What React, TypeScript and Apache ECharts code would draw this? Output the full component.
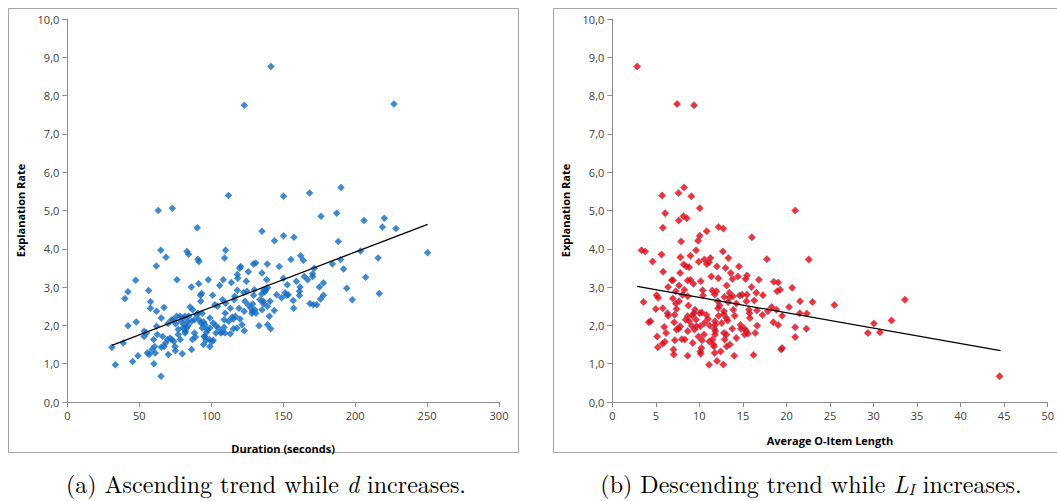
import React, { useEffect, useRef } from "react";
import * as echarts from "echarts";

// Left chart: Duration (seconds) vs Explanation Rate
const durationPoints: number[][] = [
  [141.5, 8.76], [123, 7.75], [227, 7.78], [112, 5.39], [150.3, 5.37], [168.4, 5.46], [190.2, 5.6],
  [63.2, 5.0], [73, 5.06], [90.3, 4.55], [187.2, 4.93], [176.3, 4.85], [206.2, 4.74], [219, 4.57],
  [220.3, 4.8], [228.4, 4.53], [135.3, 4.46], [150.3, 4.34], [157.5, 4.3], [144, 4.21], [188.3, 4.19],
  [250.4, 3.9], [65, 3.96], [83.2, 3.93], [84.3, 3.86], [110, 3.96], [68.6, 3.78], [61.8, 3.55],
  [109.3, 3.76], [90.8, 3.73], [91.5, 3.67], [203.8, 3.94], [216, 3.76], [189.9, 3.72], [155.4, 3.72],
  [162.2, 3.82], [164, 3.7], [184.2, 3.6], [139, 3.6], [130.9, 3.63], [129.3, 3.6], [120.5, 3.54],
  [119.8, 3.49], [147.3, 3.54], [192, 3.47], [171.6, 3.49], [125.8, 3.4], [118.2, 3.33], [135.3, 3.37],
  [170.5, 3.35], [47.5, 3.18], [76.2, 3.19], [98, 3.19], [108.4, 3.19], [138.5, 3.19], [118.4, 3.23],
  [150.1, 3.23], [170.5, 3.28], [164.7, 3.28], [124.4, 3.15], [178, 3.11], [207.3, 3.26], [159.2, 3.15],
  [91.3, 3.09], [86.2, 3.0], [114, 3.12], [105.9, 3.04], [152.9, 3.06], [167, 3.19], [175.2, 3.0],
  [194.2, 2.97], [42.2, 2.88], [56.5, 2.91], [40, 2.7], [92.5, 2.79], [93.4, 2.83], [101, 2.79],
  [118.2, 2.92], [122.6, 2.86], [130, 2.93], [137.2, 2.87], [138, 2.93], [145.5, 2.8], [151.3, 2.85],
  [152.4, 2.79], [161.3, 2.89], [161.3, 2.78], [178, 2.79], [216.8, 2.83], [198, 2.67], [176, 2.69],
  [168.6, 2.57], [170.9, 2.54], [173.3, 2.54], [157, 2.65], [157.3, 2.45], [143.8, 2.39], [140.9, 2.63],
  [136.2, 2.57], [128.8, 2.56], [127.6, 2.45], [122.9, 2.37], [128.3, 2.32], [131.1, 2.32], [123.5, 2.63],
  [116, 2.67], [102.6, 2.54], [104.5, 2.5], [108, 2.67], [113.3, 2.45], [92.7, 2.63], [85.3, 2.48],
  [67.2, 2.47], [57.8, 2.45], [57.8, 2.62], [62, 2.37], [87.1, 2.41], [90.8, 2.32], [93.8, 2.32],
  [114.6, 2.21], [120, 2.17], [140.4, 2.24], [112.1, 2.11], [109, 2.15], [109, 1.95], [117.9, 1.93],
  [123, 1.86], [133.2, 1.99], [139.2, 2.02], [141.3, 1.91], [116.8, 2.24], [107.3, 1.83], [113.3, 1.78],
  [103.3, 1.8], [96.8, 1.82], [95.2, 1.71], [98.7, 1.63], [100.5, 1.58], [99.1, 1.45], [94.7, 1.5],
  [88.3, 1.8], [86.9, 1.63], [86.4, 1.37], [79.9, 1.26], [74.8, 1.45], [75.1, 1.34], [70.2, 1.24],
  [65.1, 0.67], [60.2, 1.0], [45.4, 1.06], [49.1, 1.21], [33.4, 0.97], [31, 1.43], [38.9, 1.54],
  [42.2, 1.99], [47.9, 2.09], [53.4, 1.85], [53.4, 1.71], [55.6, 1.28], [57, 1.24], [58.8, 1.37],
  [60.7, 1.45], [60, 1.63], [61.1, 1.28], [62.5, 1.76], [62, 1.98], [65.3, 2.19], [65.3, 1.43],
  [67.2, 1.45], [68.3, 1.54], [69.7, 1.63], [71.4, 1.67], [72.5, 1.63], [66.3, 1.71], [73.7, 2.15],
  [76, 2.24], [78.3, 2.24], [80.2, 2.19], [81.8, 2.24], [72.5, 2.15], [75.3, 2.04], [77.1, 1.89],
  [77.1, 1.76], [78.5, 1.63], [80.4, 1.93], [81.3, 2.02], [82.2, 1.85], [81.8, 1.8], [83.4, 2.11],
  [82.9, 1.93], [84.3, 2.24], [86.4, 2.11], [88.3, 2.15], [89.9, 2.28], [91.5, 2.15], [92.9, 2.06],
  [94.7, 2.09], [93.8, 1.93], [95.6, 2.02], [97.3, 1.89], [99.1, 1.93], [101.4, 2.06], [103.3, 1.99],
  [104.9, 1.93], [95.4, 1.71], [96.5, 1.61], [101.4, 1.61], [106.8, 1.8], [109.6, 1.8], [115.4, 1.91],
  [115.4, 2.17], [121.4, 2.02], [125.8, 2.53], [128.6, 2.37], [130.4, 2.41], [135.3, 2.41], [136.2, 2.63],
  [139, 2.5], [135, 2.82], [136.4, 2.93], [139.2, 2.99], [133.9, 2.67], [148.9, 2.72], [153.5, 2.8],
  [161.7, 3.0], [119.3, 2.45], [124.9, 2.89], [129.5, 2.79], [116.3, 2.76], [110, 2.58], [99.1, 2.19],
  [109.8, 2.32], [55.1, 1.8], [79, 2.1], [84, 2.0], [70, 2.05], [74, 1.58], [89, 1.7]
];
const durationTrend: number[][] = [[31, 1.48], [250.4, 4.64]];

// Right chart: Average O-Item Length vs Explanation Rate
const lengthPoints: number[][] = [
  [2.86, 8.76], [7.44, 7.78], [9.39, 7.75], [8.24, 5.6], [7.6, 5.46], [5.73, 5.39], [9.08, 5.37],
  [10.04, 5.06], [21, 5.0], [6.07, 4.93], [8.17, 4.85], [8.55, 4.8], [7.63, 4.74], [5.8, 4.55],
  [12.2, 4.57], [12.75, 4.53], [10.84, 4.46], [10.04, 4.34], [16.03, 4.3], [9.85, 4.21], [7.9, 4.19],
  [3.36, 3.96], [3.78, 3.93], [12.7, 3.93], [9.62, 3.96], [5.65, 3.85], [7.82, 3.78], [8.97, 3.82],
  [10.57, 3.72], [11.26, 3.76], [13.32, 3.76], [17.75, 3.73], [22.56, 3.72], [4.62, 3.67], [9.92, 3.66],
  [10.84, 3.6], [11.1, 3.65], [8.2, 3.59], [8.5, 3.54], [8.82, 3.52], [12.0, 3.54], [13.0, 3.5],
  [14.54, 3.54], [5.84, 3.4], [7.79, 3.37], [13.6, 3.37], [11.37, 3.28], [12.18, 3.23], [14.43, 3.28],
  [15.46, 3.3], [13.8, 3.21], [6.98, 3.18], [6.83, 3.18], [8.66, 3.17], [8.97, 3.19], [10.15, 3.15],
  [15.3, 3.21], [16.83, 3.19], [18.55, 3.14], [19.05, 3.12], [7.67, 3.04], [6.41, 3.0], [9.31, 3.09],
  [13.13, 3.04], [15.99, 3.0], [20.65, 2.98], [7.29, 2.89], [8.28, 2.93], [10.38, 2.92], [11.49, 2.91],
  [11.95, 2.89], [13.44, 2.85], [16.53, 2.85], [18.93, 2.89], [19.27, 2.93], [5.08, 2.79], [5.27, 2.72],
  [8.05, 2.8], [10.42, 2.78], [11.76, 2.81], [14.62, 2.78], [14.92, 2.8], [15.46, 2.8], [17.29, 2.79],
  [6.95, 2.7], [8.66, 2.76], [12.86, 2.74], [13.47, 2.73], [13.85, 2.76], [3.59, 2.61], [7.67, 2.63],
  [12.1, 2.63], [13.3, 2.61], [15.4, 2.63], [16.3, 2.65], [21.56, 2.63], [23.0, 2.61], [25.5, 2.53],
  [33.6, 2.67], [14.24, 2.57], [12.33, 2.52], [8.74, 2.52], [7.29, 2.57], [20.3, 2.48], [18.3, 2.48],
  [18.85, 2.41], [5.0, 2.43], [5.8, 2.45], [7.37, 2.43], [12.14, 2.45], [12.82, 2.37], [13.9, 2.41],
  [15.69, 2.41], [16.6, 2.39], [17.86, 2.37], [6.34, 2.32], [7.14, 2.28], [9.5, 2.41], [10.04, 2.32],
  [10.27, 2.34], [10.8, 2.27], [12.2, 2.25], [12.8, 2.29], [14.05, 2.25], [15.76, 2.32], [21.53, 2.32],
  [22.33, 2.31], [17.25, 2.27], [19.5, 2.25], [4.39, 2.11], [4.2, 2.08], [6.41, 2.25], [8.66, 2.24],
  [9.2, 2.25], [9.35, 2.32], [8.43, 2.15], [8.82, 2.11], [9.62, 2.15], [10.99, 2.17], [11.79, 2.11],
  [13.1, 2.19], [13.24, 2.13], [15.8, 2.19], [18.5, 2.08], [30.04, 2.05], [32.06, 2.13], [7.1, 2.08],
  [5.96, 1.96], [7.79, 1.98], [9.12, 1.99], [9.66, 1.98], [10.11, 1.98], [10.57, 2.06], [11.18, 2.0],
  [11.83, 2.02], [12.56, 2.06], [14.73, 2.01], [16.64, 1.99], [19.05, 2.01], [21.0, 1.95], [22.29, 1.91],
  [6.18, 1.8], [7.37, 1.89], [7.63, 1.91], [8.66, 1.85], [9.43, 1.89], [11.72, 1.91], [11.83, 1.85],
  [13.78, 1.91], [14.77, 1.91], [15.15, 1.92], [15.38, 1.86], [29.35, 1.8], [30.73, 1.82], [5.15, 1.71],
  [7.98, 1.64], [8.32, 1.63], [9.89, 1.71], [10.53, 1.76], [11.79, 1.76], [12.82, 1.8], [13.1, 1.76],
  [15.19, 1.76], [15.57, 1.78], [16.41, 1.8], [21.0, 1.7], [7.18, 1.61], [6.03, 1.57], [5.76, 1.52],
  [10.3, 1.61], [11.14, 1.58], [11.49, 1.63], [12.9, 1.63], [14.24, 1.67], [9.24, 1.54], [11.6, 1.5],
  [13.51, 1.5], [5.23, 1.43], [10.23, 1.41], [11.68, 1.45], [13.13, 1.45], [19.5, 1.41], [19.39, 1.37],
  [7.02, 1.37], [10.11, 1.32], [12.44, 1.32], [7.06, 1.24], [8.66, 1.21], [10.15, 1.26], [11.76, 1.28],
  [14.0, 1.21], [16.22, 1.23], [12.02, 1.07], [11.11, 0.97], [12.75, 0.98], [44.47, 0.67]
];
const lengthTrend: number[][] = [[2.86, 3.02], [44.58, 1.34]];

const yMin = 0;
const yMax = 10;
const yStep = 1;
const durationTicks = { min: 0, max: 300, interval: 50 };
const lengthTicks = { min: 0, max: 50, interval: 5 };

const captionA = "(a) Ascending trend while {i|d} increases.";
const captionB = "(b) Descending trend while {i|L}{sub|I} increases.";

const labelFont = "'Open Sans', 'Noto Sans', sans-serif";
const axisLineStyle = { color: "#8c8c8c", width: 1 };

function makeYAxis(gridIndex: number) {
  return {
    type: "value",
    gridIndex,
    min: yMin,
    max: yMax,
    interval: yStep,
    name: "Explanation Rate",
    nameLocation: "middle",
    nameGap: 41,
    nameRotate: 90,
    nameTextStyle: { fontFamily: labelFont, fontWeight: "bold", fontSize: 11, color: "#000" },
    axisLine: { show: true, lineStyle: axisLineStyle },
    axisTick: { show: true, inside: false, length: 5, lineStyle: axisLineStyle },
    splitLine: { show: false },
    axisLabel: {
      fontFamily: labelFont,
      fontSize: 11,
      color: "#404040",
      margin: 8,
      formatter: (v: number) => v.toFixed(1).replace(".", ","),
    },
  };
}

function makeXAxis(gridIndex: number, name: string, t: { min: number; max: number; interval: number }, gap: number) {
  return {
    type: "value",
    gridIndex,
    min: t.min,
    max: t.max,
    interval: t.interval,
    name,
    nameLocation: "middle",
    nameGap: gap,
    nameTextStyle: { fontFamily: labelFont, fontWeight: "bold", fontSize: 11, color: "#000" },
    axisLine: { show: true, onZero: false, lineStyle: axisLineStyle },
    axisTick: { show: true, inside: false, length: 5, lineStyle: axisLineStyle },
    splitLine: { show: false },
    axisLabel: { fontFamily: labelFont, fontSize: 11, color: "#404040", margin: 8 },
  };
}

export default function App() {
  const ref = useRef<HTMLDivElement>(null);
  useEffect(() => {
    if (!ref.current) return;
    const chart = echarts.init(ref.current, undefined, { renderer: "svg" });
    const capFont = "'Latin Modern Roman', 'DejaVu Serif', serif";
    const capSize = 24;
    const capStyle = { fontFamily: capFont, fontSize: capSize, fill: "#000" };
    chart.setOption({
      animation: false,
      backgroundColor: "#fff",
      grid: [
        { left: 67.3, top: 19, width: 431.7, height: 383 },
        { left: 612.3, top: 19, width: 436.7, height: 383 },
      ],
      xAxis: [
        makeXAxis(0, "Duration (seconds)", durationTicks, 41),
        makeXAxis(1, "Average O-Item Length", lengthTicks, 33),
      ],
      yAxis: [makeYAxis(0), makeYAxis(1)],
      series: [
        {
          type: "scatter",
          xAxisIndex: 0,
          yAxisIndex: 0,
          data: durationPoints,
          symbol: "diamond",
          symbolSize: 7.5,
          itemStyle: { color: "#126cc2" },
        },
        {
          type: "line",
          xAxisIndex: 0,
          yAxisIndex: 0,
          data: durationTrend,
          showSymbol: false,
          lineStyle: { color: "#000", width: 1.3 },
        },
        {
          type: "scatter",
          xAxisIndex: 1,
          yAxisIndex: 1,
          data: lengthPoints,
          symbol: "diamond",
          symbolSize: 7.5,
          itemStyle: { color: "#f00000", borderColor: "rgba(110,110,200,0.6)", borderWidth: 0.8 },
        },
        {
          type: "line",
          xAxisIndex: 1,
          yAxisIndex: 1,
          data: lengthTrend,
          showSymbol: false,
          lineStyle: { color: "#000", width: 1.3 },
        },
      ],
      graphic: [
        {
          type: "rect",
          shape: { x: 8.5, y: 8.5, width: 510, height: 444 },
          style: { fill: "none", stroke: "#a6a6a6", lineWidth: 1 },
          z: -1,
        },
        {
          type: "rect",
          shape: { x: 553.5, y: 8.5, width: 520, height: 444 },
          style: { fill: "none", stroke: "#a6a6a6", lineWidth: 1 },
          z: -1,
        },
        {
          type: "text",
          x: 266,
          y: 483,
          style: {
            text: captionA,
            ...capStyle,
            align: "center",
            verticalAlign: "middle",
            rich: {
              i: { fontFamily: capFont, fontSize: capSize, fontStyle: "italic" },
            },
          },
        },
        {
          type: "text",
          x: 811,
          y: 483,
          style: {
            text: captionB,
            ...capStyle,
            align: "center",
            verticalAlign: "middle",
            rich: {
              i: { fontFamily: capFont, fontSize: capSize, fontStyle: "italic" },
              sub: { fontFamily: capFont, fontSize: 16, fontStyle: "italic", verticalAlign: "bottom", padding: [10, 0, 0, 0] },
            },
          },
        },
      ],
    });
    return () => chart.dispose();
  }, []);
  return (
    <div
      ref={ref}
      style={{ position: "absolute", left: 0, top: 0, width: 1057, height: 501 }}
    />
  );
}
